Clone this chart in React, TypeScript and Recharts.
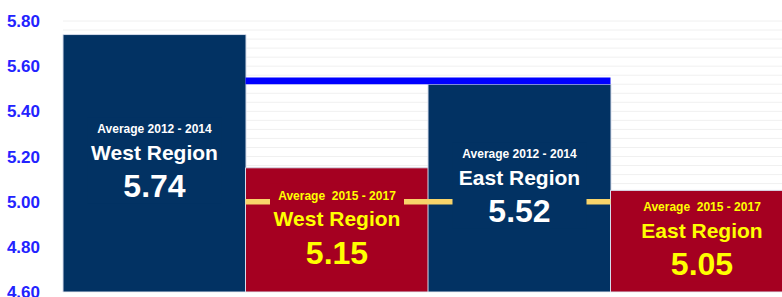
import { BarChart, Bar, XAxis, YAxis, CartesianGrid, ReferenceArea, LabelList, Cell } from "recharts";

const categories = ["West 2012-2014", "West 2015-2017", "East 2012-2014", "East 2015-2017"];
const periodLabels = ["Average 2012 - 2014", "Average  2015 - 2017", "Average 2012 - 2014", "Average  2015 - 2017"];
const regionLabels = ["West Region", "West Region", "East Region", "East Region"];
const averages = [5.74, 5.15, 5.52, 5.05];
const yTicks = [4.6, 4.8, 5.0, 5.2, 5.4, 5.6, 5.8];
const gridValues = [
  4.6, 4.64, 4.68, 4.72, 4.76, 4.8, 4.84, 4.88, 4.92, 4.96, 5.0, 5.04, 5.08, 5.12, 5.16, 5.2,
  5.24, 5.28, 5.32, 5.36, 5.4, 5.44, 5.48, 5.52, 5.56, 5.6, 5.64, 5.68, 5.72, 5.76, 5.8,
];
// blue band over the middle two bars, yellow line at 5.00
const blueBand = { from: categories[1], to: categories[2], y1: 5.52, y2: 5.55 };
const yellowBand = { from: categories[1], to: categories[2], y1: 4.988, y2: 5.012 };

const NAVY = "#023263";
const RED = "#a50021";
const barColors = [NAVY, RED, NAVY, RED];
const textColors = ["#ffffff", "#ffff00", "#ffffff", "#ffff00"];
const FONT = "'Liberation Sans', Arial, sans-serif";

const data = categories.map((name, i) => ({ name, value: averages[i] }));

function BarText(props: any) {
  const { x, y, width, height, index } = props;
  const cx = x + width / 2;
  const cy = y + height / 2;
  const color = textColors[index];
  return (
    <g fontFamily={FONT} textAnchor="middle" fill={color}>
      <rect x={cx - 67} y={cy - 46} width={134} height={86} fill={barColors[index]} />
      <text x={cx} y={cy - 34} dominantBaseline="central" fontSize={12} fontWeight="bold" style={{ whiteSpace: "pre" }}>
        {periodLabels[index]}
      </text>
      <text x={cx} y={cy - 11} dominantBaseline="central" fontSize={21} fontWeight="bold">
        {regionLabels[index]}
      </text>
      <text x={cx} y={cy + 23} dominantBaseline="central" fontSize={32} fontWeight="bold">
        {averages[index].toFixed(2)}
      </text>
    </g>
  );
}

export default function App() {
  return (
    <div style={{ position: "absolute", left: 0, top: 0, width: 782, height: 297, overflow: "hidden", background: "#fff" }}>
      <BarChart
        width={793}
        height={297}
        data={data}
        margin={{ top: 21, right: 0, bottom: 5, left: 0 }}
        barCategoryGap={0}
        barGap={0}
      >
        <CartesianGrid vertical={false} horizontalValues={gridValues} stroke="#f0f0f0" />
        <XAxis dataKey="name" hide />
        <XAxis xAxisId="labels" dataKey="name" hide />
        <YAxis
          width={63}
          domain={[4.6, 5.8]}
          ticks={yTicks}
          interval={0}
          allowDataOverflow
          axisLine={false}
          tickLine={false}
          tickSize={6}
          tickMargin={17}
          tickFormatter={(v: number) => v.toFixed(2)}
          tick={{ fill: "#2323ff", fontSize: 17, fontFamily: FONT, fontWeight: "bold" }}
        />
        <Bar dataKey="value" stroke="#d6dceb" strokeWidth={1} isAnimationActive={false}>
          {data.map((d, i) => (
            <Cell key={d.name} fill={barColors[i]} />
          ))}
        </Bar>
        <ReferenceArea
          x1={blueBand.from}
          x2={blueBand.to}
          y1={blueBand.y1}
          y2={blueBand.y2}
          fill="#0000ff"
          fillOpacity={1}
          zIndex={350}
        />
        <ReferenceArea
          x1={yellowBand.from}
          x2={yellowBand.to}
          y1={yellowBand.y1}
          y2={yellowBand.y2}
          fill="#f8d46a"
          fillOpacity={1}
          zIndex={350}
        />
        <Bar xAxisId="labels" dataKey="value" fill="none" stroke="none" isAnimationActive={false}>
          <LabelList content={<BarText />} />
        </Bar>
      </BarChart>
    </div>
  );
}
